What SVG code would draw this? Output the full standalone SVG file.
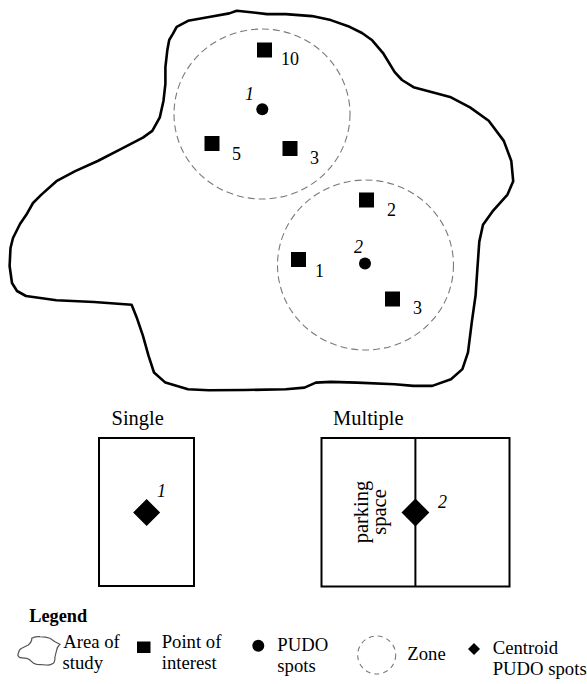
<svg xmlns="http://www.w3.org/2000/svg" width="587" height="684" viewBox="0 0 587 684">
<style>
text{font-family:"Liberation Serif","Times New Roman",serif;fill:#000}
.lbl{font-size:18px}
.it{font-size:18px;font-style:italic}
.head{font-size:20.5px}
.leg{font-size:18.7px}
.poi{fill:#000}
.zone{fill:none;stroke:#7a7a7a;stroke-width:1.1;stroke-dasharray:7 4}
.box{fill:none;stroke:#000;stroke-width:2}
</style>
<rect width="587" height="684" fill="#fff"/>
<g id="area">
<path d="M173,33.6 L176.7,26.8 L188,20.8 L210.5,16.8 L229.3,13.4 L236.8,10.7 L255.6,12.8 L267,14.1 L285.7,14.1 L312,16.1 L330.8,20.1 L349.6,26.8 L362,33 L372.2,40.3 L383.5,53.7 L394.7,72.1 L402,80 L413.5,87.2 L432.3,92.3 L451,97.3 L470,107.4 L488.7,120.8 L503.8,140.9 L511.3,161 L513.2,181.2 L507.5,194.6 L492.5,211.4 L483,224.8 L479.3,241.6 L477.4,268.5 L475.6,295.3 L471.8,322.1 L468,352.3 L462.4,369.1 L451,379.2 L432.3,385.9 L413.5,385.9 L394.7,384.2 L357,382.6 L330.8,381.9 L315.8,382.6 L304.5,387.6 L285.7,389.3 L244.4,390 L208.6,390.3 L188,389.3 L165.4,382.6 L154,372.5 L148.5,355.7 L142.9,335.6 L137.2,318.8 L131.6,304.7 L94,302 L56.4,300.3 L26,296 L17,291 L12,283 L9.6,266 L10.5,248 L13,238 L20,224 L26.3,214.8 L33,203 L41.4,194.6 L56.4,181.2 L75.2,171.1 L97.7,161 L120.3,149.3 L142.9,137.6 L152.3,130.9 L159.8,117.4 L163.5,100.7 L165.4,83.9 L165.4,67.1 L167.3,50.3 L169.2,40 Z" fill="none" stroke="#000" stroke-width="2.6" stroke-linejoin="round"/>
</g>
<g id="zone1"><ellipse class="zone" cx="262" cy="114" rx="88" ry="85"/></g>
<g id="zone2"><ellipse class="zone" cx="365.5" cy="265" rx="88" ry="85"/></g>
<g id="poi-10"><rect class="poi" x="257" y="42.5" width="15" height="15"/><text class="lbl" x="281" y="65">10</text></g>
<g id="poi-5"><rect class="poi" x="204.5" y="136" width="15" height="15"/><text class="lbl" x="232" y="159.5">5</text></g>
<g id="poi-3a"><rect class="poi" x="282.5" y="141" width="15" height="15"/><text class="lbl" x="310" y="164">3</text></g>
<g id="poi-2"><rect class="poi" x="359" y="192.5" width="15" height="15"/><text class="lbl" x="387" y="216">2</text></g>
<g id="poi-1"><rect class="poi" x="291" y="252" width="15" height="15"/><text class="lbl" x="315" y="277">1</text></g>
<g id="poi-3b"><rect class="poi" x="385" y="291.5" width="15" height="15"/><text class="lbl" x="413" y="314">3</text></g>
<g id="pudo-1"><circle cx="262.3" cy="109.3" r="6"/><text class="it" x="245" y="100">1</text></g>
<g id="pudo-2"><circle cx="365" cy="263.5" r="6"/><text class="it" x="354" y="253">2</text></g>
<g id="single">
<text class="head" x="111.5" y="425">Single</text>
<rect class="box" x="99" y="438" width="95" height="148"/>
<path d="M146.6,499 L160.1,512.5 L146.6,526 L133.1,512.5 Z" fill="#000"/>
<text class="it" x="157" y="497">1</text>
</g>
<g id="multiple">
<text class="head" x="333" y="425">Multiple</text>
<rect class="box" x="321.5" y="438" width="188" height="148.5"/>
<line x1="415.4" y1="438" x2="415.4" y2="586.5" stroke="#000" stroke-width="2"/>
<path d="M415.4,498.6 L429.3,512.5 L415.4,526.4 L401.5,512.5 Z" fill="#000"/>
<text class="it" x="438" y="508">2</text>
<text class="head" text-anchor="middle" transform="translate(367.5,512) rotate(-90)">parking</text>
<text class="head" text-anchor="middle" transform="translate(385.5,512) rotate(-90)">space</text>
</g>
<g id="legend">
<text x="29.3" y="621.7" style="font-size:18.3px;font-weight:bold">Legend</text>
<g id="leg-area">
<path d="M31.7,638.3 Q35,636 40,636.7 Q46,637 50,638.3 L55,641.7 L60,644.3 Q57,647 56.7,650 L55,656.7 Q55,662 53.3,663.3 Q50,665.5 46.7,665 L36.7,664.3 Q33,663.5 31.7,661.7 Q29,658.5 26.7,658.3 L20,657.7 Q17,656 18.3,653.3 Q19,649.5 21.7,648.3 L28.3,645 Q31,643 31.7,640 Z" fill="none" stroke="#555" stroke-width="1.2"/>
<text class="leg" x="63.3" y="648.3">Area of</text>
<text class="leg" x="62.5" y="669">study</text>
</g>
<g id="leg-poi">
<rect x="137" y="641.5" width="13.5" height="11.5" fill="#000"/>
<text class="leg" x="161.7" y="648.3">Point of</text>
<text class="leg" x="161.7" y="669">interest</text>
</g>
<g id="leg-pudo">
<circle cx="258.3" cy="645.7" r="6"/>
<text class="leg" x="277.3" y="651">PUDO</text>
<text class="leg" x="277.3" y="671.7">spots</text>
</g>
<g id="leg-zone">
<circle class="zone" cx="376.7" cy="655" r="19" style="stroke-dasharray:5 4"/>
<text class="leg" x="407.3" y="660">Zone</text>
</g>
<g id="leg-centroid">
<path d="M474,643 L480,649 L474,655 L468,649 Z" fill="#000"/>
<text class="leg" x="492.7" y="654.3">Centroid</text>
<text class="leg" x="492.7" y="675">PUDO spots</text>
</g>
</g>
</svg>
